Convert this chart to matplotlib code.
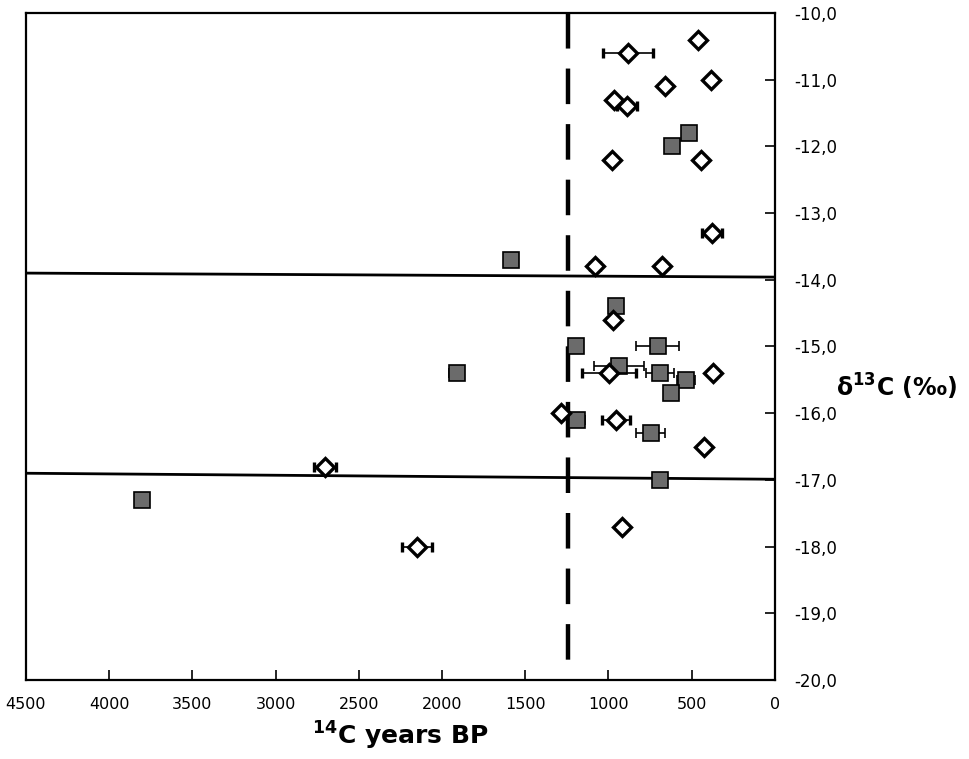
import numpy as np
import matplotlib
matplotlib.use("Agg")
import matplotlib.pyplot as plt

# squares (grey)
sq_age = [517, 615, 1587, 956, 1192, 705, 936, 691, 535, 621, 1188, 747, 691, 1911, 3804]
sq_d13c = [-11.8, -12.0, -13.7, -14.4, -15.0, -15.0, -15.3, -15.4, -15.5, -15.7, -16.1, -16.3, -17.0, -15.4, -17.3]
sq_err = [0, 35, 0, 0, 0, 130, 150, 85, 55, 0, 50, 85, 0, 45, 0]

# diamonds (open)
di_age = [460, 882, 385, 663, 966, 891, 981, 445, 380, 1078, 679, 975, 996, 374, 1282, 956, 425, 921, 2704, 2151]
di_d13c = [-10.4, -10.6, -11.0, -11.1, -11.3, -11.4, -12.2, -12.2, -13.3, -13.8, -13.8, -14.6, -15.4, -15.4, -16.0, -16.1, -16.5, -17.7, -16.8, -18.0]
di_err = [15, 150, 25, 0, 0, 60, 15, 15, 60, 30, 20, 15, 160, 0, 0, 85, 15, 0, 65, 90]

# boundary lines and dashed divider
line_x = [4500, 0]
upper_y = [-13.9, -13.96]
lower_y = [-16.9, -16.99]
divider = 1240

xticks = [4500, 4000, 3500, 3000, 2500, 2000, 1500, 1000, 500, 0]
yticks = np.arange(-20, -9.5, 1.0)

fig = plt.figure(figsize=(9.7, 7.59), dpi=100)
ax = fig.add_axes([0.0268, 0.104, 0.772, 0.879])

ax.plot(line_x, upper_y, color="black", lw=2, zorder=2)
ax.plot(line_x, lower_y, color="black", lw=2, zorder=2)
# drawn top-down so the dash pattern starts at the top like the reference
ax.plot([divider, divider], [-10, -20], color="black", lw=3.2, dashes=(8, 4.5), zorder=2)

ax.errorbar(sq_age, sq_d13c, xerr=sq_err, fmt="s", ms=12, mfc="#6b6b6b", mec="black",
            mew=1.2, ecolor="black", elinewidth=1.2, capsize=3.5, capthick=1.2, zorder=3)
ax.errorbar(di_age, di_d13c, xerr=di_err, fmt="D", ms=9.5, mfc="white", mec="black",
            mew=2.4, ecolor="black", elinewidth=1.2, capsize=3.5, capthick=1.2, zorder=4)

ax.set_xlim(4500, 0)
ax.set_ylim(-20, -10)
ax.set_xticks(xticks)
ax.set_xticklabels([str(t) for t in xticks], fontsize=11.5)
ax.set_yticks(yticks)
ax.set_yticklabels([f"{t:.1f}".replace(".", ",") for t in yticks], fontsize=12)
ax.yaxis.tick_right()
ax.tick_params(axis="x", direction="in", length=7, width=1.2, pad=12)
ax.tick_params(axis="y", direction="in", length=7, width=1.2, pad=14)
for s in ax.spines.values():
    s.set_linewidth(1.6)

ax.set_xlabel(r"$^{\mathbf{14}}$C years BP", fontsize=18, fontweight="bold", labelpad=6)
fig.text(0.862, 0.49, r"δ$^{\mathbf{13}}$C (‰)", fontsize=17, fontweight="bold", va="center")

fig.savefig("out.png", dpi=100)
